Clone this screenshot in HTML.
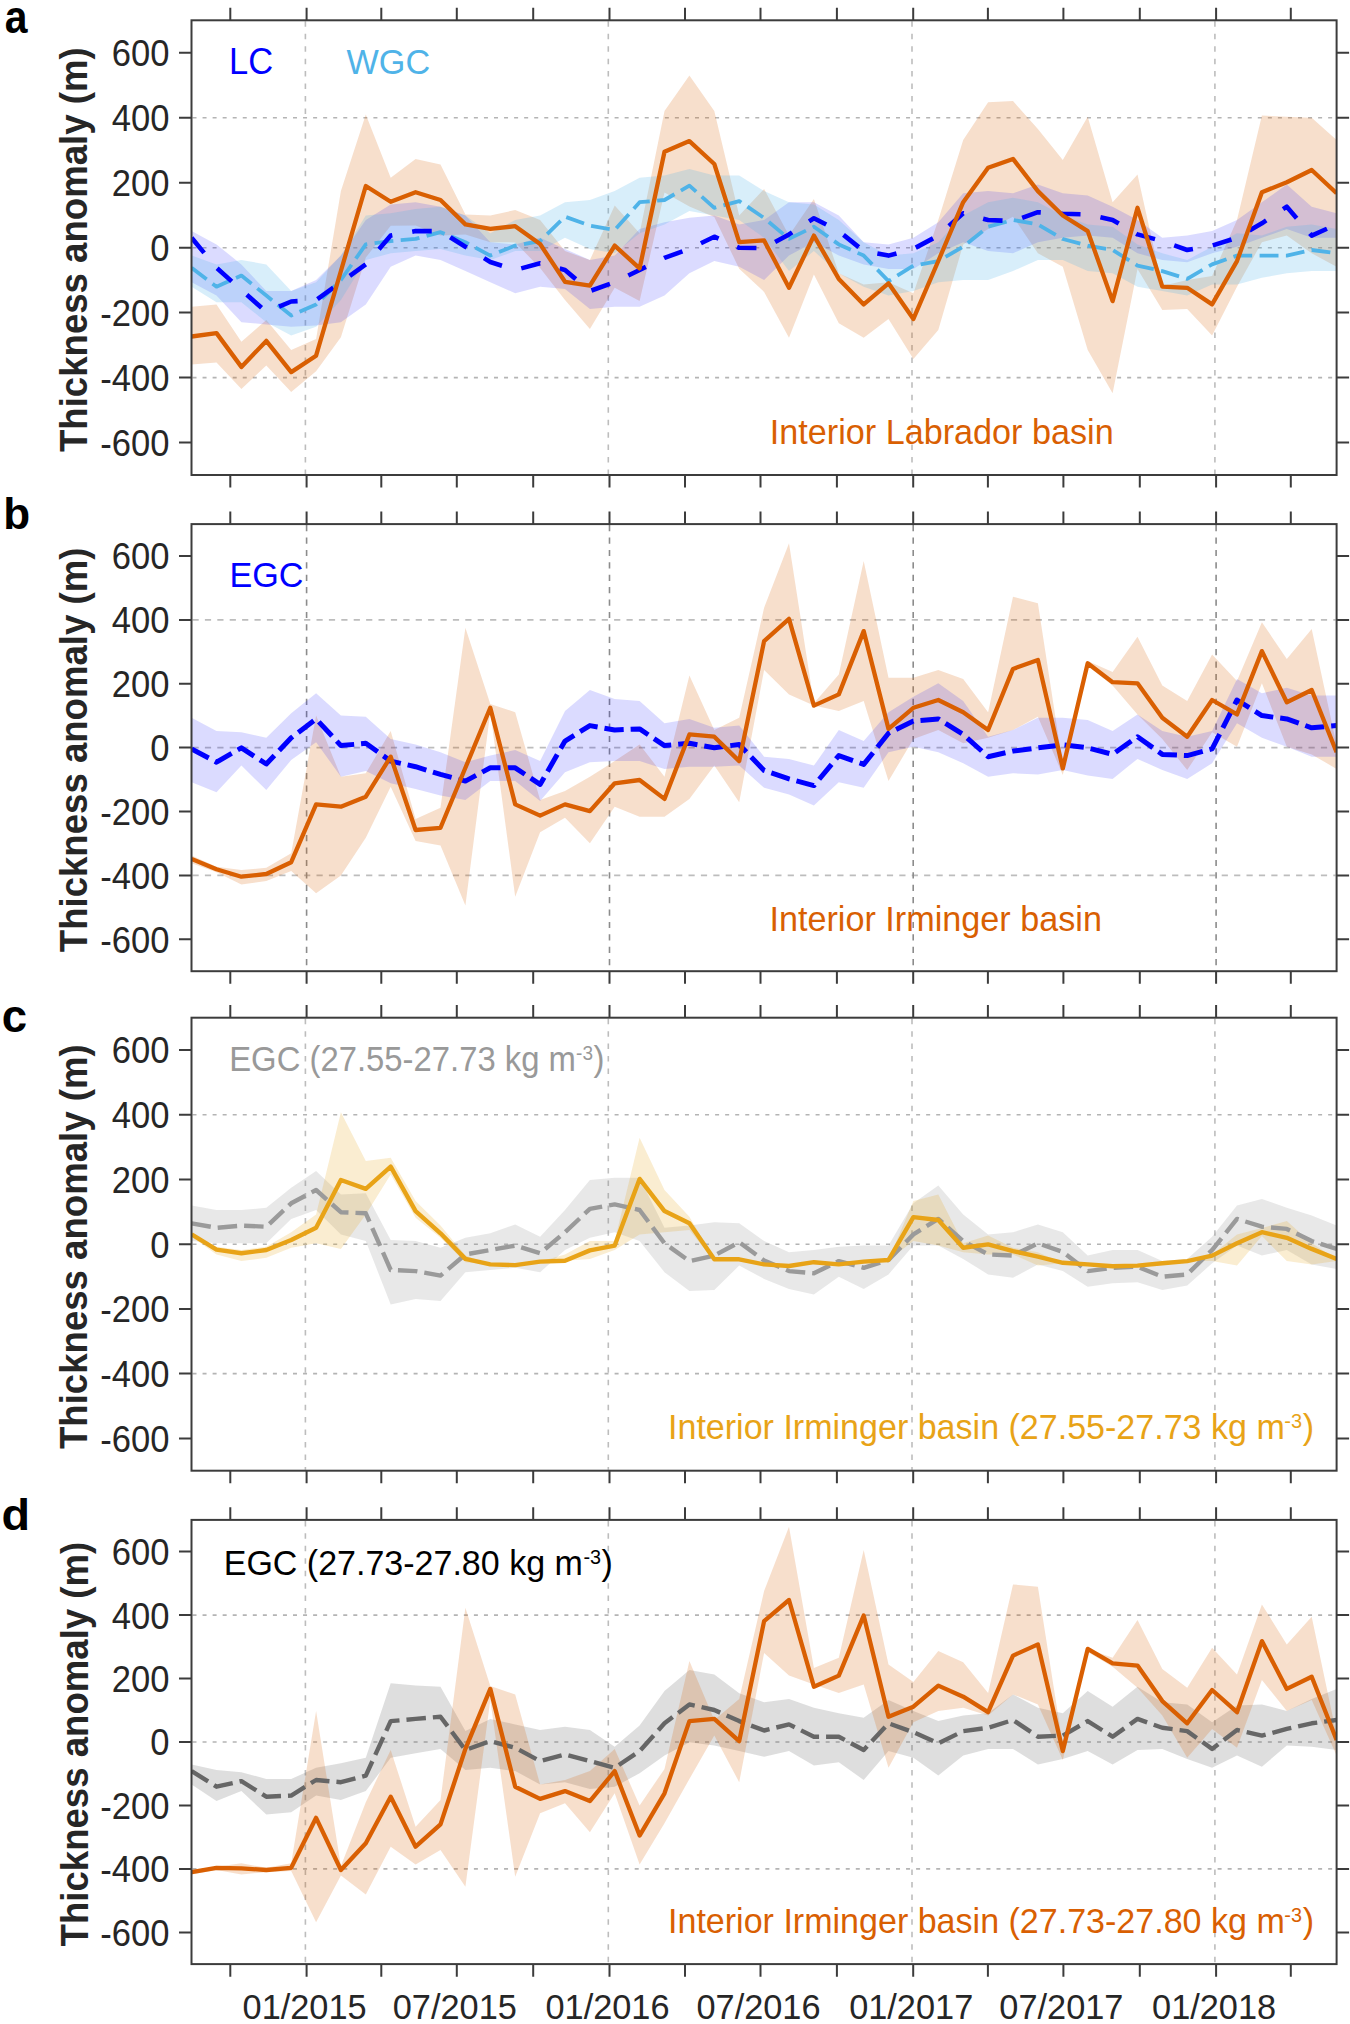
<!DOCTYPE html>
<html><head><meta charset="utf-8"><title>Thickness anomaly</title>
<style>
html,body{margin:0;padding:0;background:#fff;width:1350px;height:2024px;overflow:hidden}
svg{display:block}
text{font-family:"Liberation Sans",sans-serif}
.tl{font-size:34.6px;fill:#262626}
.yl{font-size:36.6px;font-weight:bold;fill:#262626}
.pl{font-size:46px;font-weight:bold;fill:#000}
.an{font-size:34px}
</style></head><body>
<svg xmlns="http://www.w3.org/2000/svg" width="1350" height="2024" viewBox="0 0 1350 2024">
<rect width="1350" height="2024" fill="#fff"/>
<g>
<clipPath id="clipa"><rect x="191.5" y="20.3" width="1145.1" height="454.7"/></clipPath>
<line x1="192.5" x2="1335.6" y1="117.7" y2="117.7" stroke="#B4B4B4" stroke-width="1.6" stroke-dasharray="4 6.05"/>
<line x1="192.5" x2="1335.6" y1="247.7" y2="247.7" stroke="#B4B4B4" stroke-width="1.6" stroke-dasharray="4 6.05"/>
<line x1="192.5" x2="1335.6" y1="377.6" y2="377.6" stroke="#B4B4B4" stroke-width="1.6" stroke-dasharray="4 6.05"/>
<line x1="305.4" x2="305.4" y1="21.3" y2="474" stroke="#BDBDBD" stroke-width="1.6" stroke-dasharray="5.5 6.95"/>
<line x1="608.3" x2="608.3" y1="21.3" y2="474" stroke="#BDBDBD" stroke-width="1.6" stroke-dasharray="5.5 6.95"/>
<line x1="912" x2="912" y1="21.3" y2="474" stroke="#BDBDBD" stroke-width="1.6" stroke-dasharray="5.5 6.95"/>
<line x1="1214.9" x2="1214.9" y1="21.3" y2="474" stroke="#BDBDBD" stroke-width="1.6" stroke-dasharray="5.5 6.95"/>
<g clip-path="url(#clipa)">
<polygon points="191.6,306.7 216.5,304.4 241.4,341.8 266.3,320 291.2,350 316.1,338.9 340.9,191.1 365.8,114.4 390.7,177.8 415.6,158.9 440.5,164.4 465.4,214.4 490.3,215.6 515.2,210 540.1,220 565,251.1 589.9,260 614.7,205.6 639.6,233.3 664.5,111.1 689.4,75.6 714.3,111.1 739.2,215.6 764.1,188.9 789,235.6 813.9,198.9 838.8,273.3 863.7,284.4 888.5,282.2 913.4,293.3 938.3,220 963.2,140 988.1,102.2 1013,101.1 1037.9,128.9 1062.8,160 1087.7,116.7 1112.6,202.2 1137.5,174.4 1162.3,286 1187.2,280 1212.1,276 1237,220 1261.9,115.6 1286.8,116.7 1311.7,117.8 1336.6,140 1336.6,266.7 1311.7,253.3 1286.8,235.6 1261.9,242.2 1237,286.7 1212.1,335.6 1187.2,309 1162.3,310 1137.5,269 1112.6,393.3 1087.7,350 1062.8,266.7 1037.9,253.3 1013,216.7 988.1,228.9 963.2,244.4 938.3,330 913.4,358.9 888.5,318.9 863.7,337.8 838.8,323.3 813.9,274.4 789,337.8 764.1,291.9 739.2,268.8 714.3,216.9 689.4,206.6 664.5,192.5 639.6,301.1 614.7,287.8 589.9,328.9 565,300 540.1,268 515.2,242.4 490.3,242.2 465.4,234.4 440.5,235.6 415.6,225.5 390.7,225.8 365.8,257.6 340.9,337.2 316.1,371.3 291.2,392.1 266.3,365.4 241.4,389.1 216.5,362.4 191.6,364.6" fill="#D95F02" fill-opacity="0.2"/>
<polygon points="191.6,231.1 216.5,244.4 241.4,264.4 266.3,291.1 291.2,291.1 316.1,280 340.9,255.6 365.8,220 390.7,204.4 415.6,202.2 440.5,206.7 465.4,215.6 490.3,242.2 515.2,244.4 540.1,237.8 565,248.9 589.9,260 614.7,255.6 639.6,228.9 664.5,222.2 689.4,217.8 714.3,215.6 739.2,224.4 764.1,220 789,202.2 813.9,202.2 838.8,215.6 863.7,242.2 888.5,244.4 913.4,237.8 938.3,222.2 963.2,193.3 988.1,191.1 1013,193.3 1037.9,184.4 1062.8,193.3 1087.7,195.6 1112.6,206.7 1137.5,220 1162.3,237.8 1187.2,235.6 1212.1,231.1 1237,220 1261.9,202.2 1286.8,184.4 1311.7,206.7 1336.6,213.3 1336.6,237.8 1311.7,237.8 1286.8,228.9 1261.9,237.8 1237,246.7 1212.1,253.3 1187.2,262.2 1162.3,260 1137.5,253.3 1112.6,237.8 1087.7,235.6 1062.8,237.8 1037.9,242.2 1013,253.3 988.1,251.1 963.2,242.2 938.3,253.3 913.4,268.9 888.5,268.9 863.7,264.4 838.8,255.6 813.9,242.2 789,255.6 764.1,280 739.2,266.7 714.3,261.1 689.4,273.3 664.5,295.6 639.6,306.7 614.7,306.7 589.9,308.9 565,288.9 540.1,286.7 515.2,293.3 490.3,282.2 465.4,271.1 440.5,260 415.6,255.6 390.7,266.7 365.8,304.4 340.9,322.2 316.1,325.6 291.2,326.7 266.3,324.4 241.4,322.2 216.5,295.6 191.6,282.2" fill="#0000FF" fill-opacity="0.14"/>
<polygon points="191.6,255.6 216.5,264.4 241.4,260 266.3,264.4 291.2,291.1 316.1,282.2 340.9,255.6 365.8,215.6 390.7,213.3 415.6,208.9 440.5,206.7 465.4,215.6 490.3,233.3 515.2,220 540.1,215.6 565,202.2 589.9,200 614.7,191.1 639.6,177.8 664.5,175.6 689.4,168.9 714.3,175.6 739.2,175.6 764.1,191.1 789,202.2 813.9,204.4 838.8,220 863.7,242.2 888.5,255.6 913.4,253.3 938.3,242.2 963.2,215.6 988.1,202.2 1013,197.8 1037.9,202.2 1062.8,215.6 1087.7,224.4 1112.6,226.7 1137.5,244.4 1162.3,253.3 1187.2,260 1212.1,246.7 1237,233.3 1261.9,235.6 1286.8,226.7 1311.7,224.4 1336.6,228.9 1336.6,271.1 1311.7,271.1 1286.8,273.3 1261.9,277.8 1237,284.4 1212.1,284.4 1187.2,295.6 1162.3,291.1 1137.5,286.7 1112.6,273.3 1087.7,271.1 1062.8,260 1037.9,260 1013,271.1 988.1,280 963.2,280 938.3,282.2 913.4,291.1 888.5,295.6 863.7,286.7 838.8,273.3 813.9,251.1 789,271.1 764.1,237.8 739.2,220 714.3,215.6 689.4,211.1 664.5,224.4 639.6,233.3 614.7,253.3 589.9,248.9 565,237.8 540.1,251.1 515.2,251.1 490.3,260 465.4,255.6 440.5,248.9 415.6,251.1 390.7,253.3 365.8,260 340.9,300 316.1,326.7 291.2,335.6 266.3,322.2 241.4,302.2 216.5,302.2 191.6,286.7" fill="#4FB3E8" fill-opacity="0.22"/>
<polyline points="191.6,267.8 216.5,286.7 241.4,275.6 266.3,295.6 291.2,315.6 316.1,304.4 340.9,280 365.8,244.4 390.7,241.1 415.6,238.9 440.5,232.2 465.4,242.2 490.3,255.6 515.2,245.6 540.1,241.1 565,216.7 589.9,225.6 614.7,230 639.6,202.2 664.5,200 689.4,185.6 714.3,207.8 739.2,201.1 764.1,218 789,238.9 813.9,226.7 838.8,244.4 863.7,255.6 888.5,281.1 913.4,265.6 938.3,261.1 963.2,246.7 988.1,226.7 1013,220 1037.9,224.4 1062.8,239 1087.7,245.6 1112.6,250 1137.5,265.6 1162.3,271.1 1187.2,278.9 1212.1,264.4 1237,255.6 1261.9,255.6 1286.8,255.6 1311.7,250 1336.6,253.3" fill="none" stroke="#4FB3E8" stroke-width="3.8" stroke-linejoin="round" stroke-dasharray="18.9 7.41" stroke-dashoffset="0"/>
<polyline points="191.6,237.8 216.5,267.8 241.4,290 266.3,312 291.2,301.5 316.1,300 340.9,282.2 365.8,264.4 390.7,235.6 415.6,231.1 440.5,231.1 465.4,246.7 490.3,262 515.2,270 540.1,263.3 565,270 589.9,291.1 614.7,282.2 639.6,270 664.5,257.8 689.4,248.9 714.3,236.7 739.2,247.8 764.1,248 789,234.4 813.9,218.2 838.8,231.1 863.7,251.1 888.5,255.6 913.4,248.9 938.3,235.6 963.2,213.3 988.1,220 1013,221.1 1037.9,212.2 1062.8,213.8 1087.7,214.4 1112.6,220 1137.5,234.4 1162.3,241.1 1187.2,250 1212.1,245.6 1237,237.8 1261.9,223.3 1286.8,206.7 1311.7,235.6 1336.6,224.4" fill="none" stroke="#0000FF" stroke-width="4.6" stroke-linejoin="round" stroke-dasharray="19.6 20.2" stroke-dashoffset="0"/>
<polyline points="191.6,336.5 216.5,333.1 241.4,366.9 266.3,340.9 291.2,372.1 316.1,355.7 340.9,271 365.8,186 390.7,201.8 415.6,192.2 440.5,200 465.4,224.4 490.3,228.9 515.2,226.2 540.1,244 565,281.8 589.9,285.6 614.7,245.6 639.6,268.4 664.5,151.8 689.4,141.1 714.3,164 739.2,242.2 764.1,240.4 789,287.8 813.9,235.6 838.8,278.9 863.7,304.4 888.5,283.3 913.4,318.9 938.3,261 963.2,202.2 988.1,167.8 1013,158.9 1037.9,191.1 1062.8,215.5 1087.7,231.1 1112.6,301.1 1137.5,207.8 1162.3,286.7 1187.2,287.8 1212.1,304.4 1237,261.1 1261.9,192.2 1286.8,182.2 1311.7,170 1336.6,193.3" fill="none" stroke="#D95F02" stroke-width="4.3" stroke-linejoin="round"/>
</g>
<rect x="191.5" y="20.3" width="1145.1" height="454.7" fill="none" stroke="#3C3C3C" stroke-width="2"/>
<path d="M230.3 7.7V20.3M230.3 475V487.6M306.6 7.7V20.3M306.6 475V487.6M381.3 7.7V20.3M381.3 475V487.6M456.8 7.7V20.3M456.8 475V487.6M533.2 7.7V20.3M533.2 475V487.6M609.5 7.7V20.3M609.5 475V487.6M685 7.7V20.3M685 475V487.6M760.5 7.7V20.3M760.5 475V487.6M836.9 7.7V20.3M836.9 475V487.6M913.2 7.7V20.3M913.2 475V487.6M987.9 7.7V20.3M987.9 475V487.6M1063.4 7.7V20.3M1063.4 475V487.6M1139.8 7.7V20.3M1139.8 475V487.6M1216.1 7.7V20.3M1216.1 475V487.6M1290.8 7.7V20.3M1290.8 475V487.6M179 442.5H191.5M1336.6 442.5H1349.1M179 377.6H191.5M1336.6 377.6H1349.1M179 312.6H191.5M1336.6 312.6H1349.1M179 247.7H191.5M1336.6 247.7H1349.1M179 182.7H191.5M1336.6 182.7H1349.1M179 117.7H191.5M1336.6 117.7H1349.1M179 52.8H191.5M1336.6 52.8H1349.1" stroke="#3C3C3C" stroke-width="2" fill="none"/>
<text transform="translate(169.5,455.9) scale(1,1.045)" text-anchor="end" class="tl">-600</text>
<text transform="translate(169.5,391) scale(1,1.045)" text-anchor="end" class="tl">-400</text>
<text transform="translate(169.5,326) scale(1,1.045)" text-anchor="end" class="tl">-200</text>
<text transform="translate(169.5,261.1) scale(1,1.045)" text-anchor="end" class="tl">0</text>
<text transform="translate(169.5,196.1) scale(1,1.045)" text-anchor="end" class="tl">200</text>
<text transform="translate(169.5,131.1) scale(1,1.045)" text-anchor="end" class="tl">400</text>
<text transform="translate(169.5,66.2) scale(1,1.045)" text-anchor="end" class="tl">600</text>
<text transform="translate(86.8,249.7) rotate(-90) scale(1,1.045)" text-anchor="middle" class="yl">Thickness anomaly (m)</text>
</g>
<g>
<clipPath id="clipb"><rect x="191.5" y="524.1" width="1145.1" height="447.1"/></clipPath>
<line x1="192.5" x2="1335.6" y1="619.9" y2="619.9" stroke="#BDBDBD" stroke-width="1.6" stroke-dasharray="6.2 6.2"/>
<line x1="192.5" x2="1335.6" y1="747.6" y2="747.6" stroke="#BDBDBD" stroke-width="1.6" stroke-dasharray="6.2 6.2"/>
<line x1="192.5" x2="1335.6" y1="875.4" y2="875.4" stroke="#BDBDBD" stroke-width="1.6" stroke-dasharray="6.2 6.2"/>
<line x1="306.6" x2="306.6" y1="525.1" y2="970.2" stroke="#8C8C8C" stroke-width="1.6" stroke-dasharray="6.2 6.2"/>
<line x1="609.5" x2="609.5" y1="525.1" y2="970.2" stroke="#8C8C8C" stroke-width="1.6" stroke-dasharray="6.2 6.2"/>
<line x1="913.2" x2="913.2" y1="525.1" y2="970.2" stroke="#8C8C8C" stroke-width="1.6" stroke-dasharray="6.2 6.2"/>
<line x1="1216.1" x2="1216.1" y1="525.1" y2="970.2" stroke="#8C8C8C" stroke-width="1.6" stroke-dasharray="6.2 6.2"/>
<g clip-path="url(#clipb)">
<polygon points="191.6,855.6 216.5,866.7 241.4,870 266.3,867.8 291.2,853.3 316.1,715.6 340.9,776.7 365.8,773.3 390.7,731.1 415.6,818.9 440.5,807.8 465.4,627.8 490.3,704 515.2,712.2 540.1,800 565,791.1 589.9,776.7 614.7,761.1 639.6,744.4 664.5,776.7 689.4,675.6 714.3,730 739.2,717.8 764.1,607.8 789,543.3 813.9,703.3 838.8,674.4 863.7,561.1 888.5,677.8 913.4,677.8 938.3,670 963.2,678.9 988.1,712.2 1013,596.7 1037.9,603.3 1062.8,765 1087.7,661 1112.6,672 1137.5,636.7 1162.3,685.6 1187.2,701.1 1212.1,654.4 1237,681.1 1261.9,622.2 1286.8,658.9 1311.7,628.9 1336.6,745 1336.6,768.9 1311.7,754.4 1286.8,746.7 1261.9,683.3 1237,746.7 1212.1,732.2 1187.2,770 1162.3,738.9 1137.5,714.4 1112.6,685.6 1087.7,666 1062.8,775 1037.9,716.7 1013,730 988.1,737.8 963.2,743.3 938.3,730 913.4,738.9 888.5,781.1 863.7,701.1 838.8,711.1 813.9,705.6 789,694.4 764.1,670 739.2,802.2 714.3,765.6 689.4,798.9 664.5,816.7 639.6,816.7 614.7,806.7 589.9,843.3 565,817.8 540.1,832.2 515.2,896.7 490.3,712 465.4,905.6 440.5,845.6 415.6,841.1 390.7,786.7 365.8,837.8 340.9,875.6 316.1,893.3 291.2,871.1 266.3,881.1 241.4,884.4 216.5,872.2 191.6,863.3" fill="#D95F02" fill-opacity="0.2"/>
<polygon points="191.6,717.8 216.5,731.1 241.4,732.2 266.3,737.8 291.2,713.3 316.1,693.3 340.9,715.6 365.8,716.7 390.7,738.9 415.6,744.4 440.5,752.2 465.4,762.2 490.3,755.6 515.2,750 540.1,761.1 565,711.1 589.9,690 614.7,698.9 639.6,701.1 664.5,723.3 689.4,718.9 714.3,727.8 739.2,725.6 764.1,756.7 789,758.9 813.9,765.6 838.8,730 863.7,741.1 888.5,712.2 913.4,696.7 938.3,683.3 963.2,701.1 988.1,736.7 1013,730 1037.9,717.8 1062.8,717.8 1087.7,720 1112.6,731.1 1137.5,714.4 1162.3,731.1 1187.2,736.7 1212.1,731.1 1237,678.9 1261.9,693.3 1286.8,687.8 1311.7,695.6 1336.6,695.6 1336.6,756.7 1311.7,756.7 1286.8,746.7 1261.9,737.8 1237,723.3 1212.1,763.3 1187.2,778.9 1162.3,770 1137.5,758.9 1112.6,778.9 1087.7,775.6 1062.8,770 1037.9,774.4 1013,773.3 988.1,776.7 963.2,763.3 938.3,752.2 913.4,746.7 888.5,752.2 863.7,787.8 838.8,782.2 813.9,805.6 789,794.4 764.1,787.8 739.2,765.6 714.3,766.7 689.4,766.7 664.5,768.9 639.6,761.1 614.7,761.1 589.9,762.2 565,772.2 540.1,801.1 515.2,781.1 490.3,781.1 465.4,800 440.5,795.6 415.6,788.9 390.7,783.3 365.8,771.1 340.9,776.7 316.1,742.2 291.2,760 266.3,790 241.4,765.6 216.5,792.2 191.6,782.2" fill="#0000FF" fill-opacity="0.14"/>
<polyline points="191.6,748.9 216.5,762.2 241.4,747.8 266.3,764 291.2,737.8 316.1,718.9 340.9,745.6 365.8,743.3 390.7,761.1 415.6,766.7 440.5,774.4 465.4,781.1 490.3,767.8 515.2,767.8 540.1,784.4 565,741.1 589.9,725.6 614.7,730 639.6,728.9 664.5,745.6 689.4,743.3 714.3,747.8 739.2,744.4 764.1,770.5 789,778.9 813.9,785.6 838.8,755.6 863.7,764.4 888.5,733.3 913.4,721.1 938.3,718.9 963.2,734.4 988.1,756.7 1013,751.1 1037.9,747.8 1062.8,744.8 1087.7,747.8 1112.6,754.4 1137.5,736.7 1162.3,754.4 1187.2,755.6 1212.1,748.9 1237,700 1261.9,715.6 1286.8,718.9 1311.7,727.8 1336.6,725.6" fill="none" stroke="#0000FF" stroke-width="5.0" stroke-linejoin="round" stroke-dasharray="19.4 6.95" stroke-dashoffset="0"/>
<polyline points="191.6,858.9 216.5,869.3 241.4,876.7 266.3,874 291.2,862.2 316.1,804.4 340.9,806.7 365.8,796.7 390.7,756.7 415.6,830 440.5,827.8 465.4,767.8 490.3,707.8 515.2,804.4 540.1,815.6 565,804.4 589.9,811.1 614.7,783.3 639.6,780 664.5,798.9 689.4,734.4 714.3,736.7 739.2,761.1 764.1,641.1 789,618.9 813.9,705.6 838.8,694.4 863.7,631.1 888.5,728.9 913.4,707.8 938.3,700 963.2,712.2 988.1,730 1013,668.9 1037.9,660 1062.8,768.4 1087.7,663.3 1112.6,682.2 1137.5,683.3 1162.3,717.8 1187.2,736.7 1212.1,700 1237,714.4 1261.9,651.1 1286.8,702.2 1311.7,690 1336.6,752.2" fill="none" stroke="#D95F02" stroke-width="4.3" stroke-linejoin="round"/>
</g>
<rect x="191.5" y="524.1" width="1145.1" height="447.1" fill="none" stroke="#3C3C3C" stroke-width="2"/>
<path d="M230.3 511.5V524.1M230.3 971.2V983.8M306.6 511.5V524.1M306.6 971.2V983.8M381.3 511.5V524.1M381.3 971.2V983.8M456.8 511.5V524.1M456.8 971.2V983.8M533.2 511.5V524.1M533.2 971.2V983.8M609.5 511.5V524.1M609.5 971.2V983.8M685 511.5V524.1M685 971.2V983.8M760.5 511.5V524.1M760.5 971.2V983.8M836.9 511.5V524.1M836.9 971.2V983.8M913.2 511.5V524.1M913.2 971.2V983.8M987.9 511.5V524.1M987.9 971.2V983.8M1063.4 511.5V524.1M1063.4 971.2V983.8M1139.8 511.5V524.1M1139.8 971.2V983.8M1216.1 511.5V524.1M1216.1 971.2V983.8M1290.8 511.5V524.1M1290.8 971.2V983.8M179 939.3H191.5M1336.6 939.3H1349.1M179 875.4H191.5M1336.6 875.4H1349.1M179 811.5H191.5M1336.6 811.5H1349.1M179 747.6H191.5M1336.6 747.6H1349.1M179 683.8H191.5M1336.6 683.8H1349.1M179 619.9H191.5M1336.6 619.9H1349.1M179 556H191.5M1336.6 556H1349.1" stroke="#3C3C3C" stroke-width="2" fill="none"/>
<text transform="translate(169.5,952.7) scale(1,1.045)" text-anchor="end" class="tl">-600</text>
<text transform="translate(169.5,888.8) scale(1,1.045)" text-anchor="end" class="tl">-400</text>
<text transform="translate(169.5,824.9) scale(1,1.045)" text-anchor="end" class="tl">-200</text>
<text transform="translate(169.5,761) scale(1,1.045)" text-anchor="end" class="tl">0</text>
<text transform="translate(169.5,697.2) scale(1,1.045)" text-anchor="end" class="tl">200</text>
<text transform="translate(169.5,633.3) scale(1,1.045)" text-anchor="end" class="tl">400</text>
<text transform="translate(169.5,569.4) scale(1,1.045)" text-anchor="end" class="tl">600</text>
<text transform="translate(86.7,749.9) rotate(-90) scale(1,1.045)" text-anchor="middle" class="yl">Thickness anomaly (m)</text>
</g>
<g>
<clipPath id="clipc"><rect x="191.5" y="1017.7" width="1145.1" height="453"/></clipPath>
<line x1="192.5" x2="1335.6" y1="1114.8" y2="1114.8" stroke="#B4B4B4" stroke-width="1.6" stroke-dasharray="4 6.05"/>
<line x1="192.5" x2="1335.6" y1="1244.2" y2="1244.2" stroke="#B4B4B4" stroke-width="1.6" stroke-dasharray="4 6.05"/>
<line x1="192.5" x2="1335.6" y1="1373.6" y2="1373.6" stroke="#B4B4B4" stroke-width="1.6" stroke-dasharray="4 6.05"/>
<line x1="305.4" x2="305.4" y1="1018.7" y2="1469.7" stroke="#BDBDBD" stroke-width="1.6" stroke-dasharray="5.5 6.95"/>
<line x1="608.3" x2="608.3" y1="1018.7" y2="1469.7" stroke="#BDBDBD" stroke-width="1.6" stroke-dasharray="5.5 6.95"/>
<line x1="912" x2="912" y1="1018.7" y2="1469.7" stroke="#BDBDBD" stroke-width="1.6" stroke-dasharray="5.5 6.95"/>
<line x1="1214.9" x2="1214.9" y1="1018.7" y2="1469.7" stroke="#BDBDBD" stroke-width="1.6" stroke-dasharray="5.5 6.95"/>
<g clip-path="url(#clipc)">
<polygon points="191.6,1205.6 216.5,1210 241.4,1210 266.3,1207.8 291.2,1187.8 316.1,1171.1 340.9,1194.4 365.8,1193.3 390.7,1240 415.6,1241.1 440.5,1247.8 465.4,1237.8 490.3,1233.3 515.2,1224.4 540.1,1236.7 565,1210 589.9,1180 614.7,1177.8 639.6,1177.8 664.5,1227.8 689.4,1225.6 714.3,1222.2 739.2,1223.3 764.1,1241.1 789,1252.2 813.9,1250 838.8,1246.7 863.7,1245.6 888.5,1245.6 913.4,1203.3 938.3,1185.6 963.2,1214.4 988.1,1234.4 1013,1232.2 1037.9,1224.4 1062.8,1232.2 1087.7,1255.6 1112.6,1250 1137.5,1250 1162.3,1261.1 1187.2,1258.9 1212.1,1236.7 1237,1205.6 1261.9,1198.9 1286.8,1207.8 1311.7,1215.6 1336.6,1225.6 1336.6,1268.9 1311.7,1264.4 1286.8,1250 1261.9,1255.6 1237,1245.6 1212.1,1263.3 1187.2,1285.6 1162.3,1290 1137.5,1282.2 1112.6,1283.3 1087.7,1286.7 1062.8,1271.1 1037.9,1264.4 1013,1277.8 988.1,1274.4 963.2,1258.9 938.3,1245.6 913.4,1245.6 888.5,1274.4 863.7,1288.9 838.8,1276.7 813.9,1294.4 789,1288.9 764.1,1278.9 739.2,1265.6 714.3,1290 689.4,1291.1 664.5,1272.2 639.6,1241.1 614.7,1232.2 589.9,1237.8 565,1250 540.1,1272.2 515.2,1267.8 490.3,1270 465.4,1272.2 440.5,1301.1 415.6,1298.9 390.7,1304.4 365.8,1241.1 340.9,1234.4 316.1,1210 291.2,1218.9 266.3,1243.3 241.4,1243.3 216.5,1243.3 191.6,1241.1" fill="#8C8C8C" fill-opacity="0.2"/>
<polygon points="191.6,1234.4 216.5,1246.7 241.4,1250 266.3,1246.7 291.2,1232.2 316.1,1214.4 340.9,1112.2 365.8,1161.1 390.7,1157.8 415.6,1201.1 440.5,1225.6 465.4,1255.6 490.3,1264.4 515.2,1265.1 540.1,1261.6 565,1254.4 589.9,1241.1 614.7,1241.1 639.6,1137.8 664.5,1190 689.4,1216.7 714.3,1258.9 739.2,1258.9 764.1,1264.4 789,1266 813.9,1262.2 838.8,1264.4 863.7,1261.6 888.5,1260 913.4,1201.1 938.3,1194.4 963.2,1243.3 988.1,1235.6 1013,1247.8 1037.9,1252.2 1062.8,1263.3 1087.7,1264.4 1112.6,1266.2 1137.5,1265.6 1162.3,1263.3 1187.2,1261.1 1212.1,1254.4 1237,1234.4 1261.9,1228 1286.8,1221.1 1311.7,1243.3 1336.6,1258.9 1336.6,1261.1 1311.7,1264.4 1286.8,1261.1 1261.9,1236 1237,1265.6 1212.1,1261.1 1187.2,1261.1 1162.3,1263.3 1137.5,1265.6 1112.6,1266.2 1087.7,1264.4 1062.8,1263.3 1037.9,1265.6 1013,1254.4 988.1,1254.4 963.2,1252.2 938.3,1245.6 913.4,1241.1 888.5,1260 863.7,1261.6 838.8,1264.4 813.9,1262.2 789,1266 764.1,1264.4 739.2,1261.1 714.3,1261.1 689.4,1230 664.5,1232.2 639.6,1234.4 614.7,1250 589.9,1258.9 565,1260.7 540.1,1261.6 515.2,1265.1 490.3,1264.4 465.4,1262.2 440.5,1237.8 415.6,1217.8 390.7,1174.4 365.8,1214.4 340.9,1248.9 316.1,1243.3 291.2,1247.8 266.3,1257.8 241.4,1261.1 216.5,1254.4 191.6,1236.7" fill="#E8A317" fill-opacity="0.2"/>
<polyline points="191.6,1223.3 216.5,1227.8 241.4,1225.6 266.3,1226.7 291.2,1203.3 316.1,1190 340.9,1212.2 365.8,1213.3 390.7,1270 415.6,1271.1 440.5,1275.6 465.4,1254.4 490.3,1250 515.2,1245.6 540.1,1253.3 565,1232.2 589.9,1208.9 614.7,1204.4 639.6,1210 664.5,1243.3 689.4,1261.1 714.3,1255.6 739.2,1242.2 764.1,1260.5 789,1271.1 813.9,1273.3 838.8,1261.1 863.7,1267.8 888.5,1260 913.4,1234.4 938.3,1218.9 963.2,1241.1 988.1,1254.4 1013,1255.6 1037.9,1243.3 1062.8,1252 1087.7,1271.1 1112.6,1267.8 1137.5,1266.7 1162.3,1276.7 1187.2,1274.4 1212.1,1250 1237,1218.9 1261.9,1226.7 1286.8,1228.9 1311.7,1241.1 1336.6,1248.9" fill="none" stroke="#9A9A9A" stroke-width="4.4" stroke-linejoin="round" stroke-dasharray="19.5 7" stroke-dashoffset="0"/>
<polyline points="191.6,1234.4 216.5,1249.6 241.4,1253.3 266.3,1250 291.2,1240 316.1,1227.8 340.9,1180 365.8,1188.9 390.7,1166.7 415.6,1211.1 440.5,1233.3 465.4,1258.9 490.3,1264.4 515.2,1265.1 540.1,1261.6 565,1260.7 589.9,1250.4 614.7,1245.6 639.6,1178.9 664.5,1211.1 689.4,1223.3 714.3,1259.3 739.2,1259.3 764.1,1264.4 789,1266 813.9,1262.2 838.8,1264.4 863.7,1261.6 888.5,1260 913.4,1217.1 938.3,1220 963.2,1247.8 988.1,1244.4 1013,1251.1 1037.9,1256.7 1062.8,1262.8 1087.7,1264.4 1112.6,1266.2 1137.5,1265.6 1162.3,1263.3 1187.2,1261.1 1212.1,1255.6 1237,1243.3 1261.9,1232.2 1286.8,1237.8 1311.7,1248.9 1336.6,1258.9" fill="none" stroke="#E8A317" stroke-width="4.4" stroke-linejoin="round"/>
</g>
<rect x="191.5" y="1017.7" width="1145.1" height="453" fill="none" stroke="#3C3C3C" stroke-width="2"/>
<path d="M230.3 1005.1V1017.7M230.3 1470.7V1483.3M306.6 1005.1V1017.7M306.6 1470.7V1483.3M381.3 1005.1V1017.7M381.3 1470.7V1483.3M456.8 1005.1V1017.7M456.8 1470.7V1483.3M533.2 1005.1V1017.7M533.2 1470.7V1483.3M609.5 1005.1V1017.7M609.5 1470.7V1483.3M685 1005.1V1017.7M685 1470.7V1483.3M760.5 1005.1V1017.7M760.5 1470.7V1483.3M836.9 1005.1V1017.7M836.9 1470.7V1483.3M913.2 1005.1V1017.7M913.2 1470.7V1483.3M987.9 1005.1V1017.7M987.9 1470.7V1483.3M1063.4 1005.1V1017.7M1063.4 1470.7V1483.3M1139.8 1005.1V1017.7M1139.8 1470.7V1483.3M1216.1 1005.1V1017.7M1216.1 1470.7V1483.3M1290.8 1005.1V1017.7M1290.8 1470.7V1483.3M179 1438.4H191.5M1336.6 1438.4H1349.1M179 1373.6H191.5M1336.6 1373.6H1349.1M179 1308.9H191.5M1336.6 1308.9H1349.1M179 1244.2H191.5M1336.6 1244.2H1349.1M179 1179.5H191.5M1336.6 1179.5H1349.1M179 1114.8H191.5M1336.6 1114.8H1349.1M179 1050H191.5M1336.6 1050H1349.1" stroke="#3C3C3C" stroke-width="2" fill="none"/>
<text transform="translate(169.5,1451.8) scale(1,1.045)" text-anchor="end" class="tl">-600</text>
<text transform="translate(169.5,1387) scale(1,1.045)" text-anchor="end" class="tl">-400</text>
<text transform="translate(169.5,1322.3) scale(1,1.045)" text-anchor="end" class="tl">-200</text>
<text transform="translate(169.5,1257.6) scale(1,1.045)" text-anchor="end" class="tl">0</text>
<text transform="translate(169.5,1192.9) scale(1,1.045)" text-anchor="end" class="tl">200</text>
<text transform="translate(169.5,1128.2) scale(1,1.045)" text-anchor="end" class="tl">400</text>
<text transform="translate(169.5,1063.4) scale(1,1.045)" text-anchor="end" class="tl">600</text>
<text transform="translate(86.7,1246.7) rotate(-90) scale(1,1.045)" text-anchor="middle" class="yl">Thickness anomaly (m)</text>
</g>
<g>
<clipPath id="clipd"><rect x="191.5" y="1519.9" width="1145.1" height="444.2"/></clipPath>
<line x1="192.5" x2="1335.6" y1="1615.1" y2="1615.1" stroke="#B4B4B4" stroke-width="1.6" stroke-dasharray="4 6.05"/>
<line x1="192.5" x2="1335.6" y1="1742" y2="1742" stroke="#B4B4B4" stroke-width="1.6" stroke-dasharray="4 6.05"/>
<line x1="192.5" x2="1335.6" y1="1868.9" y2="1868.9" stroke="#B4B4B4" stroke-width="1.6" stroke-dasharray="4 6.05"/>
<line x1="305.4" x2="305.4" y1="1520.9" y2="1963.1" stroke="#BDBDBD" stroke-width="1.6" stroke-dasharray="5.5 6.95"/>
<line x1="608.3" x2="608.3" y1="1520.9" y2="1963.1" stroke="#BDBDBD" stroke-width="1.6" stroke-dasharray="5.5 6.95"/>
<line x1="912" x2="912" y1="1520.9" y2="1963.1" stroke="#BDBDBD" stroke-width="1.6" stroke-dasharray="5.5 6.95"/>
<line x1="1214.9" x2="1214.9" y1="1520.9" y2="1963.1" stroke="#BDBDBD" stroke-width="1.6" stroke-dasharray="5.5 6.95"/>
<g clip-path="url(#clipd)">
<polygon points="191.6,1764.4 216.5,1770 241.4,1772.2 266.3,1778.9 291.2,1778.9 316.1,1767.8 340.9,1763.3 365.8,1757.8 390.7,1683.3 415.6,1685.6 440.5,1686.7 465.4,1731.1 490.3,1718.9 515.2,1724.4 540.1,1730 565,1726.7 589.9,1730 614.7,1746.7 639.6,1725.6 664.5,1691.1 689.4,1670 714.3,1674.4 739.2,1693.3 764.1,1702.2 789,1698.9 813.9,1707.8 838.8,1713.3 863.7,1717.8 888.5,1700 913.4,1711.1 938.3,1721.1 963.2,1715.6 988.1,1713.3 1013,1694.4 1037.9,1707.8 1062.8,1713.3 1087.7,1691.1 1112.6,1706.7 1137.5,1686.7 1162.3,1702.2 1187.2,1704.4 1212.1,1722.2 1237,1705.6 1261.9,1704.4 1286.8,1711.1 1311.7,1698.9 1336.6,1688.9 1336.6,1750 1311.7,1746.7 1286.8,1745.6 1261.9,1766.7 1237,1755.6 1212.1,1767.8 1187.2,1758.9 1162.3,1748.9 1137.5,1750 1112.6,1764.4 1087.7,1751.1 1062.8,1758.9 1037.9,1764.4 1013,1748.9 988.1,1748.9 963.2,1755.6 938.3,1775.6 913.4,1757.8 888.5,1751.1 863.7,1780 838.8,1762.2 813.9,1765.6 789,1751.1 764.1,1756.7 739.2,1751.1 714.3,1745.6 689.4,1742.2 664.5,1755.6 639.6,1773.3 614.7,1786.7 589.9,1788.9 565,1782.2 540.1,1784.4 515.2,1771.1 490.3,1767.8 465.4,1770 440.5,1748.9 415.6,1753.3 390.7,1757.8 365.8,1791.1 340.9,1800 316.1,1795.6 291.2,1812.2 266.3,1814.4 241.4,1791.1 216.5,1801.1 191.6,1784.4" fill="#5A5A5A" fill-opacity="0.2"/>
<polygon points="191.6,1870 216.5,1866.7 241.4,1863.3 266.3,1867.8 291.2,1863.3 316.1,1711.1 340.9,1866 365.8,1802.2 390.7,1750 415.6,1826.7 440.5,1800 465.4,1607.8 490.3,1686 515.2,1694.4 540.1,1784.4 565,1780 589.9,1771.1 614.7,1748.9 639.6,1805.6 664.5,1768.9 689.4,1661.1 714.3,1720 739.2,1698.9 764.1,1591 789,1526.7 813.9,1668 838.8,1657.8 863.7,1550 888.5,1664.4 913.4,1682 938.3,1651.1 963.2,1662.2 988.1,1693 1013,1584.4 1037.9,1586.7 1062.8,1745 1087.7,1648.9 1112.6,1657.8 1137.5,1620 1162.3,1668.9 1187.2,1687.8 1212.1,1647.8 1237,1674.4 1261.9,1604.4 1286.8,1644.4 1311.7,1616.7 1336.6,1735 1336.6,1755.6 1311.7,1700 1286.8,1711.1 1261.9,1680 1237,1747.8 1212.1,1728.9 1187.2,1757.8 1162.3,1715.6 1137.5,1687.8 1112.6,1666.7 1087.7,1652 1062.8,1760 1037.9,1704.4 1013,1694.4 988.1,1715.6 963.2,1707.8 938.3,1711.1 913.4,1722.2 888.5,1767.8 863.7,1684.4 838.8,1693 813.9,1684.4 789,1675.6 764.1,1653 739.2,1782.2 714.3,1735.6 689.4,1778.9 664.5,1823.3 639.6,1864.4 614.7,1793.3 589.9,1832.2 565,1803.3 540.1,1813.3 515.2,1876.7 490.3,1700 465.4,1886.7 440.5,1850 415.6,1864.4 390.7,1846.7 365.8,1894.4 340.9,1875.6 316.1,1922.2 291.2,1871.1 266.3,1872.2 241.4,1874.4 216.5,1870 191.6,1874.4" fill="#D95F02" fill-opacity="0.2"/>
<polyline points="191.6,1771.1 216.5,1786.7 241.4,1781.1 266.3,1796.7 291.2,1795.6 316.1,1780 340.9,1782.2 365.8,1775.6 390.7,1721.1 415.6,1718.9 440.5,1716.7 465.4,1750 490.3,1741.1 515.2,1747.8 540.1,1761.1 565,1754.4 589.9,1761.1 614.7,1767.8 639.6,1751.1 664.5,1723.3 689.4,1704.4 714.3,1710 739.2,1721.1 764.1,1730.5 789,1724.4 813.9,1736.7 838.8,1736.7 863.7,1750 888.5,1723.3 913.4,1732.2 938.3,1743.3 963.2,1731.1 988.1,1727.8 1013,1720 1037.9,1736.7 1062.8,1735.6 1087.7,1721.1 1112.6,1736.7 1137.5,1718.9 1162.3,1727.8 1187.2,1731.1 1212.1,1748.9 1237,1730 1261.9,1735.6 1286.8,1728.9 1311.7,1723.3 1336.6,1720" fill="none" stroke="#666666" stroke-width="4.4" stroke-linejoin="round" stroke-dasharray="19.5 7" stroke-dashoffset="0"/>
<polyline points="191.6,1872.2 216.5,1867.8 241.4,1868.4 266.3,1870 291.2,1867.8 316.1,1817.8 340.9,1870 365.8,1843.3 390.7,1796.7 415.6,1846.7 440.5,1824.4 465.4,1748.9 490.3,1688.9 515.2,1786.7 540.1,1798.9 565,1791.1 589.9,1801.1 614.7,1771.1 639.6,1835.6 664.5,1793.3 689.4,1721.1 714.3,1718.9 739.2,1741.1 764.1,1621.1 789,1600 813.9,1686.7 838.8,1675.6 863.7,1615.6 888.5,1716.7 913.4,1706.7 938.3,1685.6 963.2,1696.7 988.1,1712.2 1013,1655.6 1037.9,1644.4 1062.8,1751.1 1087.7,1648.9 1112.6,1663.3 1137.5,1665.6 1162.3,1701.1 1187.2,1723.3 1212.1,1690 1237,1712.2 1261.9,1641.1 1286.8,1688.9 1311.7,1676.7 1336.6,1740" fill="none" stroke="#D95F02" stroke-width="4.3" stroke-linejoin="round"/>
</g>
<rect x="191.5" y="1519.9" width="1145.1" height="444.2" fill="none" stroke="#3C3C3C" stroke-width="2"/>
<path d="M230.3 1507.3V1519.9M230.3 1964.1V1976.7M306.6 1507.3V1519.9M306.6 1964.1V1976.7M381.3 1507.3V1519.9M381.3 1964.1V1976.7M456.8 1507.3V1519.9M456.8 1964.1V1976.7M533.2 1507.3V1519.9M533.2 1964.1V1976.7M609.5 1507.3V1519.9M609.5 1964.1V1976.7M685 1507.3V1519.9M685 1964.1V1976.7M760.5 1507.3V1519.9M760.5 1964.1V1976.7M836.9 1507.3V1519.9M836.9 1964.1V1976.7M913.2 1507.3V1519.9M913.2 1964.1V1976.7M987.9 1507.3V1519.9M987.9 1964.1V1976.7M1063.4 1507.3V1519.9M1063.4 1964.1V1976.7M1139.8 1507.3V1519.9M1139.8 1964.1V1976.7M1216.1 1507.3V1519.9M1216.1 1964.1V1976.7M1290.8 1507.3V1519.9M1290.8 1964.1V1976.7M179 1932.4H191.5M1336.6 1932.4H1349.1M179 1868.9H191.5M1336.6 1868.9H1349.1M179 1805.5H191.5M1336.6 1805.5H1349.1M179 1742H191.5M1336.6 1742H1349.1M179 1678.5H191.5M1336.6 1678.5H1349.1M179 1615.1H191.5M1336.6 1615.1H1349.1M179 1551.6H191.5M1336.6 1551.6H1349.1" stroke="#3C3C3C" stroke-width="2" fill="none"/>
<text transform="translate(169.5,1945.8) scale(1,1.045)" text-anchor="end" class="tl">-600</text>
<text transform="translate(169.5,1882.3) scale(1,1.045)" text-anchor="end" class="tl">-400</text>
<text transform="translate(169.5,1818.9) scale(1,1.045)" text-anchor="end" class="tl">-200</text>
<text transform="translate(169.5,1755.4) scale(1,1.045)" text-anchor="end" class="tl">0</text>
<text transform="translate(169.5,1691.9) scale(1,1.045)" text-anchor="end" class="tl">200</text>
<text transform="translate(169.5,1628.5) scale(1,1.045)" text-anchor="end" class="tl">400</text>
<text transform="translate(169.5,1565) scale(1,1.045)" text-anchor="end" class="tl">600</text>
<text transform="translate(87.8,1744.1) rotate(-90) scale(1,1.045)" text-anchor="middle" class="yl">Thickness anomaly (m)</text>
</g>
<text transform="translate(4.8,33.15) scale(0.929,1.053)" class="pl" style="font-size:44px">a</text>
<text transform="translate(3.3,529.2) scale(1.0,1.028)" class="pl" style="font-size:44px">b</text>
<text transform="translate(1.8,1031.75) scale(0.989,1.023)" class="pl" style="font-size:46px">c</text>
<text transform="translate(1.4,1529.96) scale(1.04,1.002)" class="pl" style="font-size:45px">d</text>
<text transform="translate(229.1,74.4) scale(1,1.045)" class="an" fill="#0000FF" style="font-size:34.5px">LC</text>
<text transform="translate(346.6,74.4) scale(1,1.045)" class="an" fill="#4FB3E8" style="font-size:34.2px">WGC</text>
<text transform="translate(769.8,443.8) scale(1,1.045)" class="an" fill="#D95F02" style="font-size:34.19px">Interior Labrador basin</text>
<text transform="translate(229.4,587) scale(1,1.045)" class="an" fill="#0000FF" style="font-size:34.15px">EGC</text>
<text transform="translate(769.4,930.8) scale(1,1.045)" class="an" fill="#D95F02" style="font-size:34.2px">Interior Irminger basin</text>
<text transform="translate(229.2,1070.6) scale(1,1.045)" class="an" fill="#999999" style="font-size:32.85px">EGC (27.55-27.73 kg m</text><text transform="translate(576.1,1060) scale(1,1.045)" class="an" fill="#999999" style="font-size:19.0px">-3</text><text transform="translate(593.5,1070.6) scale(1,1.045)" class="an" fill="#999999" style="font-size:32.85px">)</text>
<text transform="translate(668,1439.2) scale(1,1.045)" class="an" fill="#E8A317" style="font-size:34.05px">Interior Irminger basin (27.55-27.73 kg m</text><text transform="translate(1284.3,1428.4) scale(1,1.045)" class="an" fill="#E8A317" style="font-size:20.0px">-3</text><text transform="translate(1302.8,1439.2) scale(1,1.045)" class="an" fill="#E8A317" style="font-size:34.05px">)</text>
<text transform="translate(223.7,1574.7) scale(1,1.045)" class="an" fill="#000000" style="font-size:34.02px">EGC (27.73-27.80 kg m</text><text transform="translate(583.4,1563.8) scale(1,1.045)" class="an" fill="#000000" style="font-size:19.8px">-3</text><text transform="translate(601.5,1574.7) scale(1,1.045)" class="an" fill="#000000" style="font-size:34.02px">)</text>
<text transform="translate(668,1932.7) scale(1,1.045)" class="an" fill="#D95F02" style="font-size:34.05px">Interior Irminger basin (27.73-27.80 kg m</text><text transform="translate(1284.3,1921.8) scale(1,1.045)" class="an" fill="#D95F02" style="font-size:19.8px">-3</text><text transform="translate(1302.8,1932.7) scale(1,1.045)" class="an" fill="#D95F02" style="font-size:34.05px">)</text>
<text transform="translate(304.6,2018.6) scale(1,1.045)" text-anchor="middle" class="tl" style="font-size:34.35px">01/2015</text>
<text transform="translate(454.8,2018.6) scale(1,1.045)" text-anchor="middle" class="tl" style="font-size:34.35px">07/2015</text>
<text transform="translate(607.5,2018.6) scale(1,1.045)" text-anchor="middle" class="tl" style="font-size:34.35px">01/2016</text>
<text transform="translate(758.5,2018.6) scale(1,1.045)" text-anchor="middle" class="tl" style="font-size:34.35px">07/2016</text>
<text transform="translate(911.2,2018.6) scale(1,1.045)" text-anchor="middle" class="tl" style="font-size:34.35px">01/2017</text>
<text transform="translate(1061.4,2018.6) scale(1,1.045)" text-anchor="middle" class="tl" style="font-size:34.35px">07/2017</text>
<text transform="translate(1214.1,2018.6) scale(1,1.045)" text-anchor="middle" class="tl" style="font-size:34.35px">01/2018</text>
</svg>
</body></html>
